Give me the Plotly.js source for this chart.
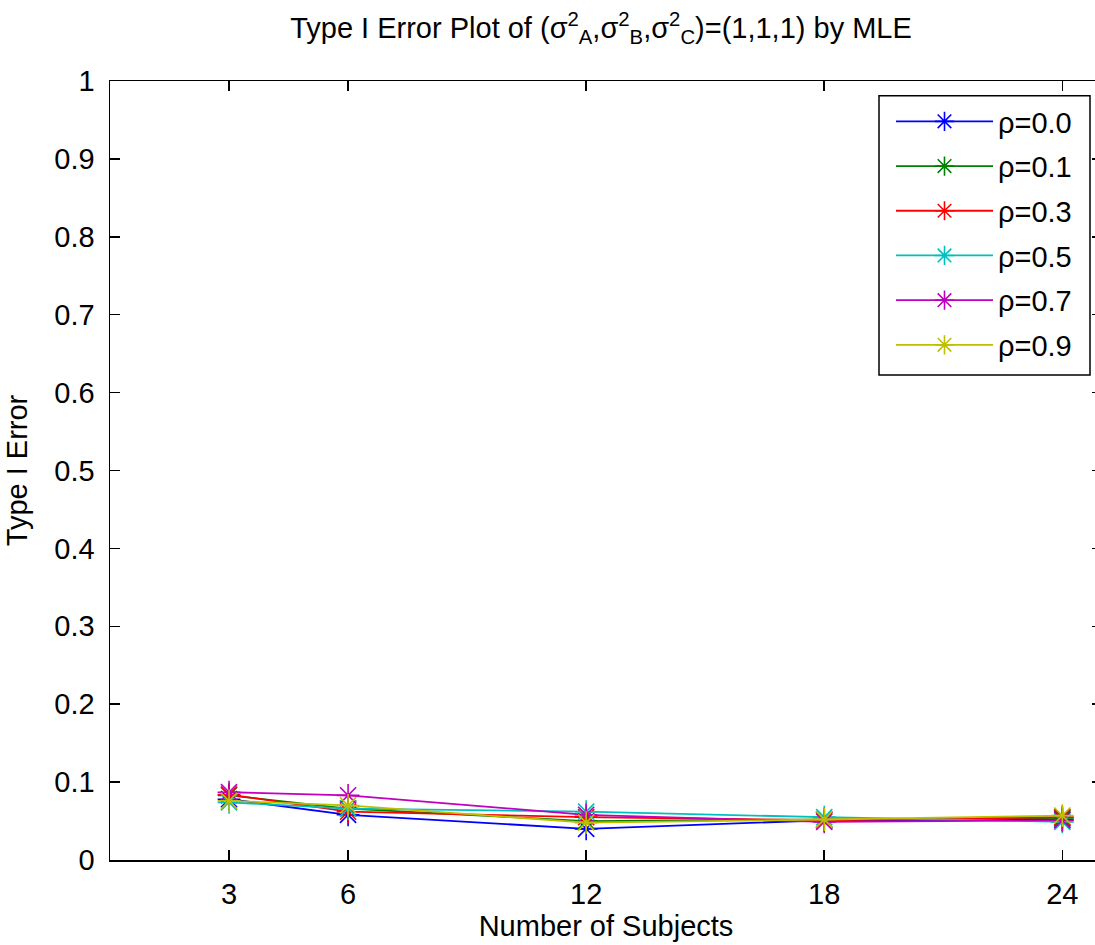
<!DOCTYPE html>
<html>
<head>
<meta charset="utf-8">
<script src="https://cdn.plot.ly/plotly-3.0.1.min.js"></script>
<style>
html, body { margin: 0; padding: 0; overflow: hidden; background: #fff; }
#chart { width: 1112px; height: 945px; }
</style>
</head>
<body>
<div id="chart"></div>
<script>
// Data
const subjects = [3, 6, 12, 18, 24];
const seriesNames = ["ρ=0.0", "ρ=0.1", "ρ=0.3", "ρ=0.5", "ρ=0.7", "ρ=0.9"];
const rho00 = [0.078, 0.058, 0.040, 0.051, 0.052];
const rho01 = [0.083, 0.066, 0.050, 0.052, 0.054];
const rho03 = [0.084, 0.062, 0.055, 0.051, 0.055];
const rho05 = [0.074, 0.066, 0.062, 0.055, 0.049];
const rho07 = [0.087, 0.083, 0.058, 0.049, 0.051];
const rho09 = [0.076, 0.070, 0.048, 0.052, 0.057];
const xTicks = [3, 6, 12, 18, 24];

const seriesValues = [rho00, rho01, rho03, rho05, rho07, rho09];
const colors = ["#0000ff", "#008000", "#ff0000", "#00bfbf", "#bf00bf", "#bfbf00"];

const FONT = '"Liberation Sans", Arial, Helvetica, sans-serif';

const traces = seriesValues.map((vals, i) => ({
  x: subjects,
  y: vals,
  name: seriesNames[i],
  legendgroup: 'g' + i,
  type: 'scatter',
  mode: 'lines+markers',
  line: { color: colors[i], width: 1.8 },
  marker: { symbol: 'asterisk-open', size: 19, color: colors[i], line: { color: colors[i], width: 1.6 } }
}));

const layout = {
  width: 1112,
  height: 945,
  margin: { l: 110, r: 10, t: 81, b: 85 },
  paper_bgcolor: '#ffffff',
  plot_bgcolor: '#ffffff',
  font: { family: FONT, size: 29, color: '#000000' },
  title: {
    text: 'Type I Error Plot of (σ<sup>2</sup><sub>A</sub>,σ<sup>2</sup><sub>B</sub>,σ<sup>2</sup><sub>C</sub>)=(1,1,1) by MLE',
    font: { family: FONT, size: 29, color: '#000000' },
    x: 601 / 1112, xref: 'container', xanchor: 'center',
    y: 1 - 28 / 945, yref: 'container', yanchor: 'middle'
  },
  xaxis: {
    range: [0, 25],
    tickmode: 'array',
    tickvals: xTicks,
    ticks: 'inside', ticklen: 10, tickwidth: 1.5, tickcolor: '#000',
    showline: true, linecolor: '#000', linewidth: 1.5, mirror: 'ticks',
    showgrid: false, zeroline: false,
    ticklabelstandoff: 8,
    tickfont: { family: FONT, size: 29, color: '#000' },
    title: { text: 'Number of Subjects', font: { family: FONT, size: 29, color: '#000' }, standoff: 6 },
    automargin: false
  },
  yaxis: {
    range: [0, 1],
    tickmode: 'linear', tick0: 0, dtick: 0.1,
    ticks: 'inside', ticklen: 10, tickwidth: 1.5, tickcolor: '#000',
    showline: true, linecolor: '#000', linewidth: 1.5, mirror: 'ticks',
    showgrid: false, zeroline: false,
    ticklabelstandoff: 8,
    tickfont: { family: FONT, size: 29, color: '#000' },
    title: { text: 'Type I Error', font: { family: FONT, size: 29, color: '#000' }, standoff: 18 },
    automargin: false
  },
  showlegend: true,
  legend: {
    x: (891 - 110) / 992, xref: 'paper', xanchor: 'left',
    y: (860 - 96) / 779, yref: 'paper', yanchor: 'top',
    bgcolor: 'rgba(0,0,0,0)', borderwidth: 0,
    font: { family: FONT, size: 29, color: '#000' },
    itemwidth: 97,
    tracegroupgap: 4,
    traceorder: 'grouped'
  },
  shapes: [{
    type: 'rect', xref: 'paper', yref: 'paper', layer: 'below',
    x0: (879 - 110) / 992, x1: (1090 - 110) / 992,
    y0: (860 - 375) / 779, y1: (860 - 95.7) / 779,
    line: { color: '#000', width: 1.5 }, fillcolor: '#ffffff'
  }]
};

Plotly.newPlot('chart', traces, layout, { displayModeBar: false, staticPlot: true });
</script>
</body>
</html>
